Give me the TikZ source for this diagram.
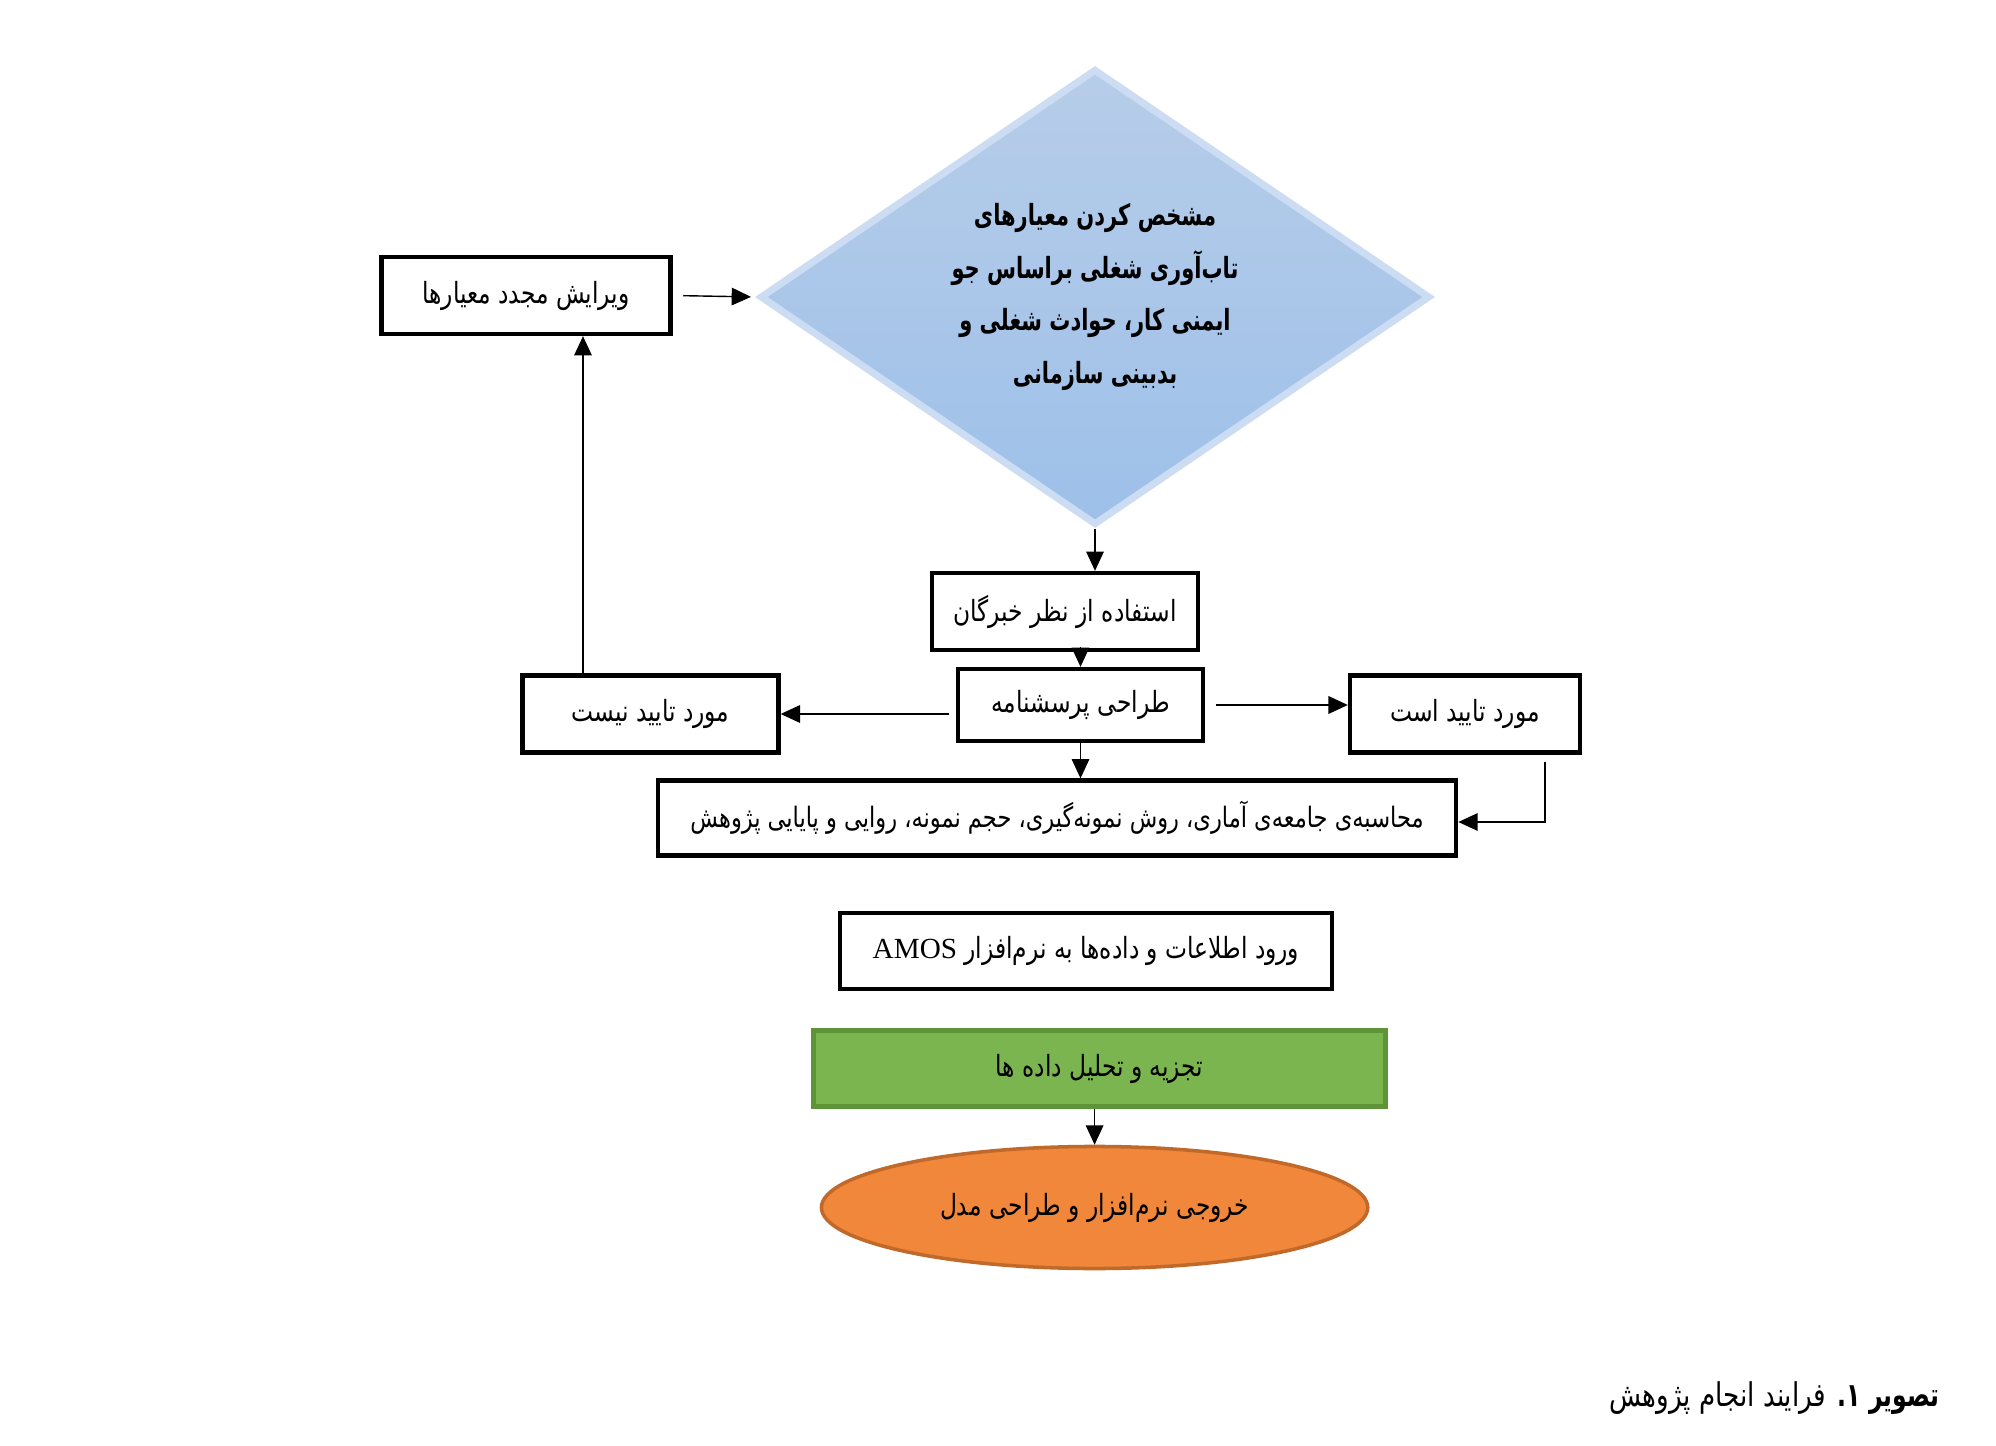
\documentclass[tikz,border=0pt]{standalone}
\usepackage{fontspec}
\setmainfont{Liberation Serif}
\newfontfamily\fa[Script=Arabic,FakeStretch=0.8]{DejaVu Sans}
\newfontfamily\fab[Script=Arabic,FakeStretch=0.72]{DejaVu Sans Bold}
\TeXXeTstate=1
\usetikzlibrary{shapes.geometric,arrows.meta,calc}
\definecolor{diaTop}{HTML}{B7CDE9}
\definecolor{diaBot}{HTML}{9DC0E9}
\definecolor{diaEdge}{HTML}{CCDDF3}
\definecolor{grFill}{HTML}{7AB54F}
\definecolor{grLine}{HTML}{5E9438}
\definecolor{orFill}{HTML}{F0873A}
\definecolor{orLine}{HTML}{C0692A}
\tikzset{
  boxnode/.style={draw=black, line width=1.2pt, fill=white, rectangle, inner sep=0pt,
    font={\fontsize{8.3}{10}\selectfont\fa}},
  arr/.style={-{Triangle[length=5.5pt,width=5pt]}, line width=0.4pt, draw=black},
}
\begin{document}
\begin{tikzpicture}[x=0.01cm,y=-0.01cm]
\useasboundingbox (0,0) rectangle (1996,1446);

% diamond
\node[diamond, aspect=1.466, minimum width=6.7cm, minimum height=4.56cm, inner sep=0pt,
  top color=diaTop, bottom color=diaBot, draw=diaEdge, line width=2pt,
  align=center, font={\fontsize{8.3}{15}\selectfont\fab}] (dia) at (1095,297)
  {\beginR مشخص کردن معیارهای\endR\\
   \beginR تاب‌آوری شغلی براساس جو\endR\\
   \beginR ایمنی کار، حوادث شغلی و\endR\\
   \beginR بدبینی سازمانی\endR};

\node[boxnode, minimum width=2.89cm, minimum height=0.77cm] (vir) at (526,295.5)
  {\beginR ویرایش مجدد معیارها\endR};
\node[boxnode, minimum width=2.66cm, minimum height=0.77cm] (est) at (1065,611.5)
  {\beginR استفاده از نظر خبرگان\endR};
\node[boxnode, minimum width=2.45cm, minimum height=0.72cm] (tar) at (1080.5,705)
  {\beginR طراحی پرسشنامه\endR};
\node[boxnode, minimum width=2.56cm, minimum height=0.77cm] (nist) at (650.5,714)
  {\beginR مورد تایید نیست\endR};
\node[boxnode, minimum width=2.30cm, minimum height=0.77cm] (ast) at (1465,714)
  {\beginR مورد تایید است\endR};
\node[boxnode, minimum width=7.98cm, minimum height=0.75cm, font={\fontsize{8}{10}\selectfont\fa}] (calc) at (1057,818)
  {\beginR محاسبه‌ی جامعه‌ی آماری، روش نمونه‌گیری، حجم نمونه، روایی و پایایی پژوهش\endR};
\node[boxnode, minimum width=4.92cm, minimum height=0.76cm] (amos) at (1086,951)
  {\beginR ورود اطلاعات و داده‌ها به نرم‌افزار \beginL{\rmfamily AMOS}\endL\endR};
\node[boxnode, draw=grLine, fill=grFill, line width=1.4pt, minimum width=5.71cm, minimum height=0.76cm] (ana) at (1099.5,1068.7)
  {\beginR تجزیه و تحلیل داده ها\endR};
\node[ellipse, draw=orLine, fill=orFill, line width=1pt, inner sep=0pt,
  minimum width=5.46cm, minimum height=1.22cm, font={\fontsize{8.3}{10}\selectfont\fa}] (out) at (1094.6,1207.5)
  {\beginR خروجی نرم‌افزار و طراحی مدل\endR};

\node[anchor=east, inner sep=0pt, font={\fontsize{9.3}{12}\selectfont\fa}] (cap) at (1940,1398)
  {\beginR{\fab تصویر ۱.} فرایند انجام پژوهش\endR};

% connectors
\draw[arr, shorten <=3pt, shorten >=1.5pt] (vir.east) -- (dia.west);
\draw[arr] (dia.south) -- (dia.south |- est.north);
\draw[arr] ([yshift=0.05cm]tar.north |- est.south) -- (tar.north);
\draw[arr, shorten <=2pt] (tar.west |- nist.east) -- (nist.east);
\draw[arr, shorten <=3pt] (tar.east) -- (ast.west |- tar.east);
\draw[arr] (tar.south) -- (tar.south |- calc.north);
\coordinate (up) at (583,0);
\draw[arr] (nist.north -| up) -- (vir.south -| up);
\coordinate (rt) at (1545,822);
\draw[arr, shorten <=2pt] (ast.south -| rt) -- (rt) -- (calc.east |- rt);
\draw[arr] (out.north |- ana.south) -- (out.north);
\end{tikzpicture}
\end{document}
